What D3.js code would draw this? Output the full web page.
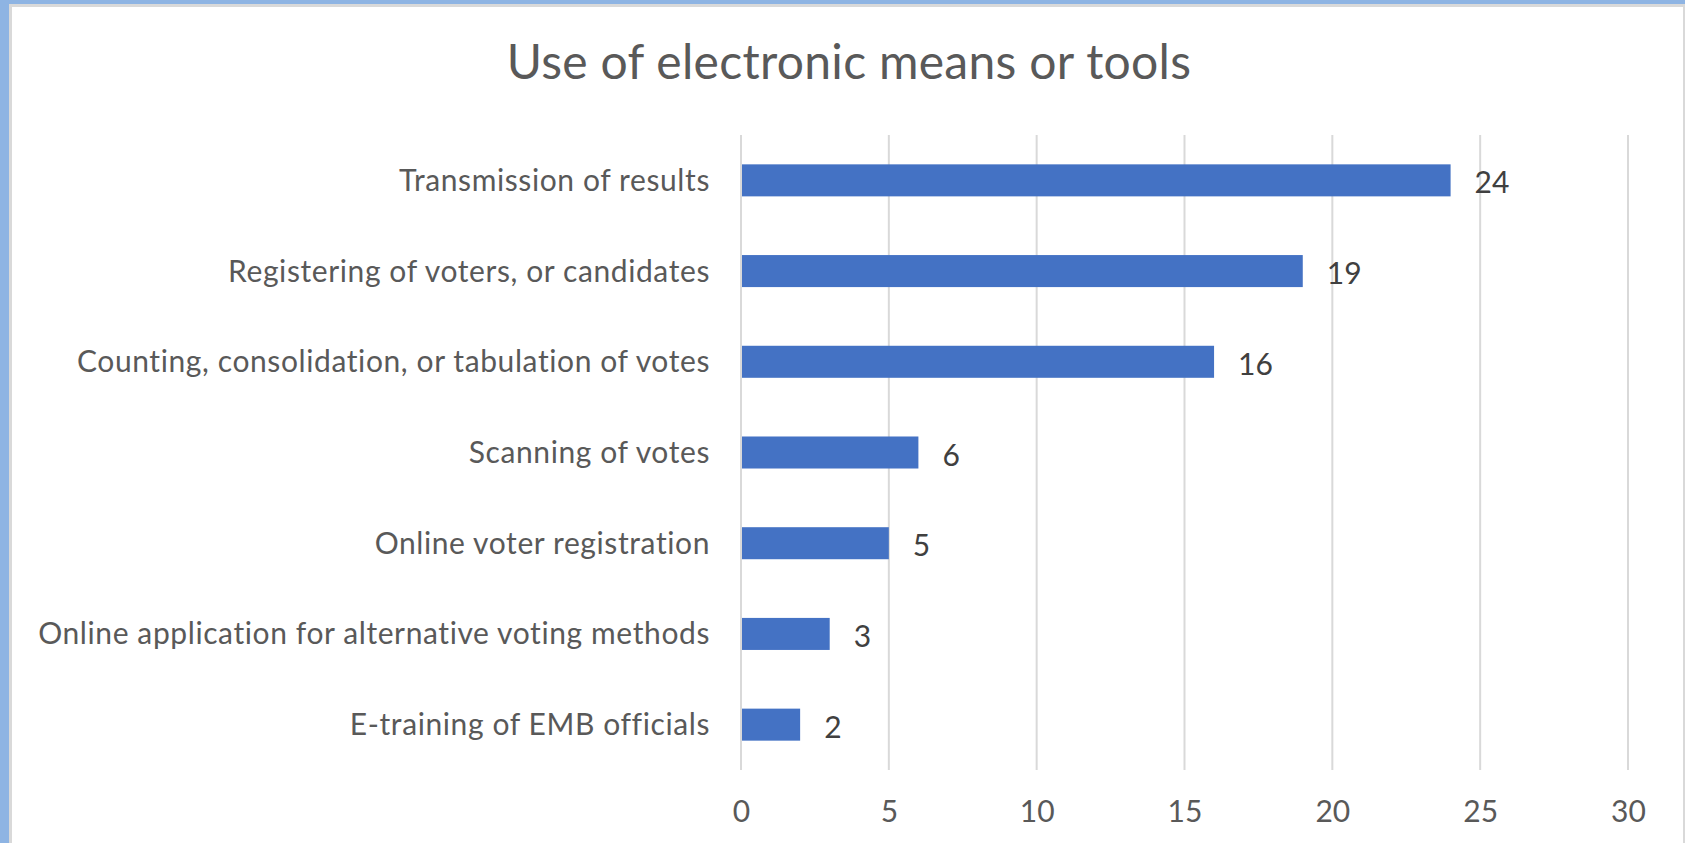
<!DOCTYPE html>
<html>
<head>
<meta charset="utf-8">
<script src="https://cdn.jsdelivr.net/npm/d3@7"></script>
<style>
  html, body { margin: 0; padding: 0; background: #fff; overflow: hidden; }
  svg { display: block; }
  text { font-family: Lato, "Open Sans", sans-serif; }
</style>
</head>
<body>
<svg id="chart" width="1685" height="843"></svg>
<script>
// Survey results: number of EMBs using each kind of electronic tool
const categories = [
  "Transmission of results",
  "Registering of voters, or candidates",
  "Counting, consolidation, or tabulation of votes",
  "Scanning of votes",
  "Online voter registration",
  "Online application for alternative voting methods",
  "E-training of EMB officials"
];
const counts = [24, 19, 16, 6, 5, 3, 2];
const xTicks = [0, 5, 10, 15, 20, 25, 30];
const chartTitle = "Use of electronic means or tools";

const W = 1685, H = 843;
const svg = d3.select("#chart");

// frame: blue edge with a thin grey inner rule
svg.append("rect").attr("x", 0).attr("y", 0).attr("width", W).attr("height", H).attr("fill", "#8EB4E3");
svg.append("rect").attr("x", 9).attr("y", 4).attr("width", W - 9).attr("height", H - 4).attr("fill", "#D9D9D9");
svg.append("rect").attr("x", 12).attr("y", 7).attr("width", W - 14).attr("height", H - 7).attr("fill", "#FFFFFF");

const x = d3.scaleLinear().domain([0, 30]).range([741, 1628]);
const y = d3.scaleBand().domain(categories).range([135, 770])
  .paddingInner(0.647).paddingOuter(0.3235);

// vertical gridlines
svg.append("g")
  .selectAll("line")
  .data(xTicks)
  .join("line")
  .attr("x1", d => x(d)).attr("x2", d => x(d))
  .attr("y1", 135).attr("y2", 770)
  .attr("stroke", "#D9D9D9")
  .attr("stroke-width", 2);

// bottom tick labels
const xAxis = d3.axisBottom(x).tickValues(xTicks).tickSize(0).tickPadding(0);
const gx = svg.append("g").attr("transform", "translate(0,770)").call(xAxis);
gx.select(".domain").remove();
gx.selectAll("text")
  .attr("y", 52).attr("dy", null)
  .attr("fill", "#595959")
  .style("font-size", "30px")
  .style("font-family", "Lato, 'Open Sans', sans-serif");

// category labels
const yAxis = d3.axisLeft(y).tickSize(0).tickPadding(0);
const gy = svg.append("g").attr("transform", "translate(710,0)").call(yAxis);
gy.select(".domain").remove();
gy.selectAll("text")
  .attr("x", 0).attr("dy", "0.35em")
  .attr("fill", "#595959")
  .style("font-size", "30px")
  .style("letter-spacing", "0.6px")
  .style("font-family", "Lato, 'Open Sans', sans-serif");

// bars
svg.append("g")
  .selectAll("rect")
  .data(categories)
  .join("rect")
  .attr("x", x(0) + 1)
  .attr("y", d => y(d))
  .attr("width", (d, i) => x(counts[i]) - x(0) - 1)
  .attr("height", y.bandwidth())
  .attr("fill", "#4472C4");

// value labels
svg.append("g")
  .selectAll("text")
  .data(categories)
  .join("text")
  .attr("x", (d, i) => x(counts[i]) + 24)
  .attr("y", d => y(d) + y.bandwidth() / 2 + 13)
  .attr("fill", "#404040")
  .style("font-size", "30px")
  .text((d, i) => counts[i]);

// title
svg.append("text")
  .attr("x", 849).attr("y", 79)
  .attr("text-anchor", "middle")
  .attr("fill", "#595959")
  .style("font-size", "48px")
  .style("letter-spacing", "0.3px")
  .text(chartTitle);
</script>
</body>
</html>
